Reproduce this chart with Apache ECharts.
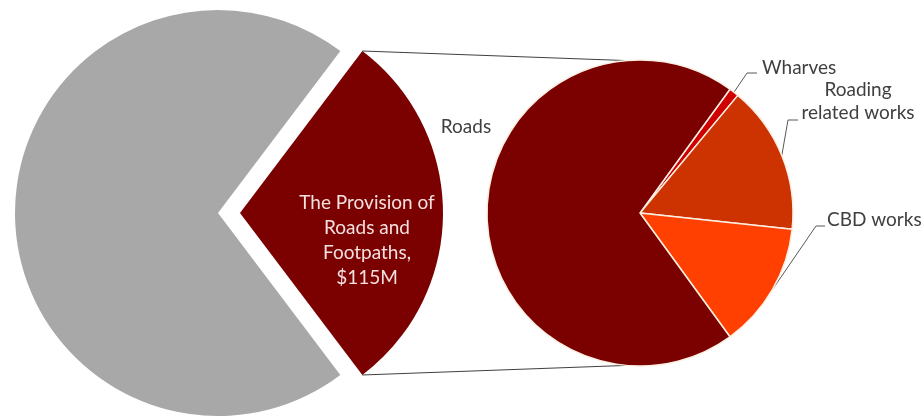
<!DOCTYPE html>
<html>
<head>
<meta charset="utf-8">
<script src="https://cdn.jsdelivr.net/npm/echarts@6/dist/echarts.min.js"></script>
<style>
  html, body { margin: 0; padding: 0; background: #ffffff; }
  #chart { width: 922px; height: 417px; }
</style>
</head>
<body>
<div id="chart"></div>
<script>
// Overall spending split (in $M)
const overviewNames = ['The Provision of\nRoads and\nFootpaths', 'Other activities'];
const overviewValues = [115, 276];

// Breakdown of the roads and footpaths spend (in $M), clockwise from the top
const roadsNames = ['Wharves', 'Roading\nrelated works', 'CBD works', 'Roads'];
const roadsValues = [1.2, 18, 15.3, 80.5];

const overviewColors = ['#7b0000', '#a8a8a8'];
const roadsColors = ['#d00000', '#cc3300', '#ff4000', '#7b0000'];

// Geometry of both pies
const leftPie = { cx: 218, cy: 213, r: 203, offset: 22 };
const rightPie = { cx: 640, cy: 213, r: 153, start: 54 };

const overviewTotal = overviewValues.reduce((a, b) => a + b, 0);
const highlightHalf = 180 * overviewValues[0] / overviewTotal; // half-angle of the exploded slice

const roadsTotal = roadsValues.reduce((a, b) => a + b, 0);
const rad = Math.PI / 180;

// Mid-angle point on the outer arc of a right-pie slice
function arcMidPoint(i) {
  let before = 0;
  for (let k = 0; k < i; k++) before += roadsValues[k];
  const mid = rightPie.start - 360 * (before + roadsValues[i] / 2) / roadsTotal;
  return [rightPie.cx + rightPie.r * Math.cos(mid * rad), rightPie.cy - rightPie.r * Math.sin(mid * rad)];
}

// Where each breakdown label sits and how its leader bends
const roadsLabelSpots = [
  { x: 762, y: 68, align: 'left', bend: [747, 73], end: [757, 73] },
  { x: 858, y: 101, align: 'center', bend: [788, 120], end: [798, 120] },
  { x: 827, y: 220, align: 'left', bend: [816, 226], end: [825, 226] },
  { x: 466, y: 127, align: 'center' }
];

// Connector lines from the exploded slice corners to the breakdown pie
function connector(sign) {
  const a = sign * highlightHalf * rad;
  const from = [leftPie.cx + leftPie.offset + leftPie.r * Math.cos(a), leftPie.cy - leftPie.r * Math.sin(a)];
  const b = sign * 95 * rad;
  const to = [rightPie.cx + rightPie.r * Math.cos(b), rightPie.cy - rightPie.r * Math.sin(b)];
  return {
    type: 'line',
    shape: { x1: from[0], y1: from[1], x2: to[0], y2: to[1] },
    style: { stroke: '#404040', lineWidth: 1 },
    silent: true
  };
}

const textFont = 'Lato, "Open Sans", sans-serif';
const hidden = 'rgba(0,0,0,0)';

// The overall pie is drawn twice: once in place (other activities) and once
// shifted right (the exploded roads slice), each with the other slice hidden.
function overviewSeries(visibleIndex, shift) {
  return {
    type: 'pie',
    center: [leftPie.cx + shift, leftPie.cy],
    radius: leftPie.r,
    startAngle: highlightHalf,
    clockwise: true,
    avoidLabelOverlap: false,
    silent: true,
    emphasis: { disabled: true },
    itemStyle: { borderWidth: 0 },
    label: {
      show: false,
      position: 'inside',
      color: '#f4e0df',
      fontFamily: textFont,
      fontSize: 19,
      lineHeight: 25,
      align: 'center',
      formatter: p => p.name + ',\n$' + p.value + 'M'
    },
    labelLine: { show: false },
    labelLayout: p => (p.dataIndex === 0 ? { x: 367, y: 240, align: 'center', verticalAlign: 'middle' } : {}),
    data: overviewValues.map((v, i) => ({
      name: overviewNames[i],
      value: v,
      itemStyle: { color: i === visibleIndex ? overviewColors[i] : hidden },
      label: { show: i === visibleIndex && i === 0 }
    }))
  };
}

const chart = echarts.init(document.getElementById('chart'), null, { renderer: 'canvas' });

chart.setOption({
  animation: false,
  backgroundColor: '#ffffff',
  graphic: [connector(1), connector(-1)],
  series: [
    overviewSeries(1, 0),
    overviewSeries(0, leftPie.offset),
    {
      type: 'pie',
      center: [rightPie.cx, rightPie.cy],
      radius: rightPie.r,
      startAngle: rightPie.start,
      clockwise: true,
      avoidLabelOverlap: false,
      silent: true,
      emphasis: { disabled: true },
      itemStyle: { borderColor: '#fbeee2', borderWidth: 1.5 },
      label: {
        show: true,
        position: 'outside',
        color: '#404040',
        fontFamily: textFont,
        fontSize: 19,
        lineHeight: 23,
        formatter: '{b}'
      },
      labelLine: { show: true, length: 10, length2: 10, lineStyle: { color: '#595959', width: 1 } },
      labelLayout: p => {
        const s = roadsLabelSpots[p.dataIndex];
        const out = { x: s.x, y: s.y, align: s.align, verticalAlign: 'middle' };
        if (s.bend) out.labelLinePoints = [arcMidPoint(p.dataIndex), s.bend, s.end];
        return out;
      },
      data: roadsValues.map((v, i) => ({
        name: roadsNames[i],
        value: v,
        itemStyle: { color: roadsColors[i] },
        labelLine: { show: i !== 3 }
      }))
    }
  ]
});
</script>
</body>
</html>
